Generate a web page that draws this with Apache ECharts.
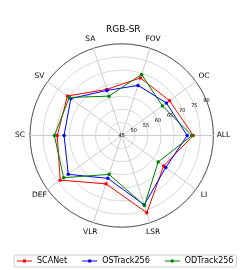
<!DOCTYPE html>
<html><head><meta charset="utf-8">
<script src="https://cdn.jsdelivr.net/npm/echarts@6/dist/echarts.min.js"></script>
<style>html,body{margin:0;padding:0;background:#fff}#c{width:240px;height:270px}</style>
</head><body><div id="c"></div>
<script>
const categories = ['ALL', 'OC', 'FOV', 'SA', 'SV', 'SC', 'DEF', 'VLR', 'LSR', 'LI'];
const scanet =     [72.3, 67.6, 68.1, 63.5, 70.6, 69.6, 74.0, 64.4, 76.0, 64.8];
const ostrack256 = [70.0, 66.1, 65.1, 63.1, 69.0, 67.0, 70.2, 62.2, 72.8, 65.8];
const odtrack256 = [71.8, 64.2, 69.5, 60.8, 69.7, 70.7, 72.4, 60.6, 73.1, 62.2];
const radialTicks = [45, 50, 55, 60, 65, 70, 75, 80];
const seriesNames = ['SCANet', 'OSTrack256', 'ODTrack256'];
const seriesColors = ['#ff0000', '#0000ff', '#008000'];
const title = 'RGB-SR';

const rMin = radialTicks[0], rMax = radialTicks[radialTicks.length - 1];
const rStep = radialTicks[1] - radialTicks[0];
const CENTER = [121.7, 135.5], RADIUS = 91.7;
const FONT = 'DejaVu Sans';
const legendIcon = 'path://M0,2h15v1H0z M6,1h3v3H6z';

const chart = echarts.init(document.getElementById('c'), null, {renderer: 'canvas'});
const values = [scanet, ostrack256, odtrack256];
chart.setOption({
  animation: false,
  backgroundColor: '#fff',
  title: {
    text: title, left: 106, top: 25, padding: 0,
    textStyle: {fontFamily: FONT, fontSize: 9, fontWeight: 'normal', color: '#000'}
  },
  legend: {
    data: seriesNames.map((n) => ({name: n, icon: legendIcon})),
    left: 14, top: 255, padding: [2, 3],
    itemWidth: 15, itemHeight: 3, itemGap: 15,
    borderColor: '#cccccc', borderWidth: 1, borderRadius: 2,
    textStyle: {fontFamily: FONT, fontSize: 8, color: '#000'}
  },
  polar: {center: CENTER, radius: RADIUS},
  angleAxis: {
    type: 'value', min: 0, max: 360, startAngle: 22.5,
    axisLine: {show: true, lineStyle: {color: '#333333', width: 0.8}},
    axisTick: {show: false}, axisLabel: {show: false}, splitLine: {show: false}
  },
  radiusAxis: {
    type: 'value', min: rMin, max: rMax, interval: rStep,
    axisLine: {show: false}, axisTick: {show: false}, splitLine: {show: false},
    axisLabel: {fontFamily: FONT, fontSize: 5, color: '#000', margin: 0, align: 'center', verticalAlign: 'middle'},
    z: 5
  },
  radar: {
    center: CENTER, radius: RADIUS, startAngle: 0, shape: 'circle',
    splitNumber: radialTicks.length - 1,
    indicator: categories.map((c) => ({name: c, min: rMin, max: rMax})),
    axisName: {fontFamily: FONT, fontSize: 7.5, color: '#000', align: 'center', verticalAlign: 'middle'},
    nameGap: 10,
    axisLine: {lineStyle: {color: '#cccccc', width: 1}},
    splitLine: {lineStyle: {color: '#d9d9d9', width: 1}},
    splitArea: {show: false},
    axisTick: {show: false}, axisLabel: {show: false}
  },
  series: seriesNames.map((n, i) => ({
    name: n, type: 'radar', symbol: 'circle', symbolSize: 3.5,
    itemStyle: {color: seriesColors[i]},
    lineStyle: {color: seriesColors[i], width: 1},
    data: [{value: values[i], name: n}],
    z: 3 + i
  }))
});
</script></body></html>
